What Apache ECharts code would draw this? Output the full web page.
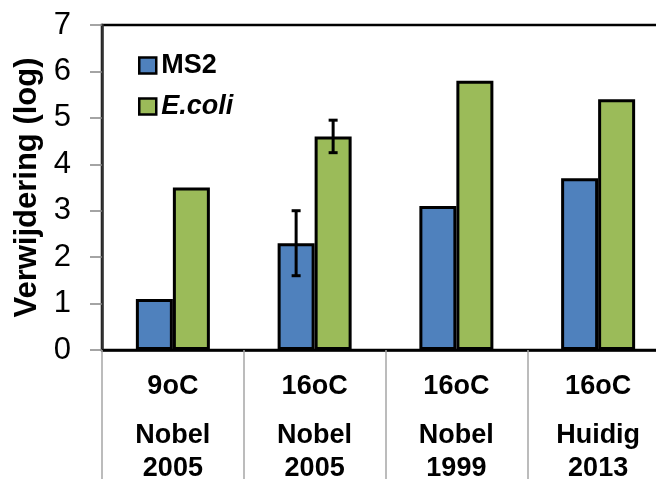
<!DOCTYPE html>
<html>
<head>
<meta charset="utf-8">
<script src="https://cdn.jsdelivr.net/npm/echarts@6/dist/echarts.min.js"></script>
<style>
  html, body { margin: 0; padding: 0; background: #fff; }
  #chart { width: 656px; height: 479px; }
</style>
</head>
<body>
<div id="chart"></div>
<script>
// Log removal per test condition
const temps = ['9oC', '16oC', '16oC', '16oC'];
const studies = ['Nobel', 'Nobel', 'Nobel', 'Huidig'];
const years = ['2005', '2005', '1999', '2013'];
const yTicks = [0, 1, 2, 3, 4, 5, 6, 7];

const ms2 = [1.1, 2.3, 3.1, 3.7];
const ecoli = [3.5, 4.6, 5.8, 5.4];

// Error ranges [category index, low, high]
const ms2Err = [[1, 1.6, 3.0]];
const ecoliErr = [[1, 4.25, 4.95]];

const FONT = '"Liberation Sans", Arial, Helvetica, sans-serif';
const BAR_W = 37;
const BLUE = '#4F81BD';
const GREEN = '#9BBB59';

const categories = temps.map((t, i) => i);

function errorSeries(name, data, offset) {
  return {
    type: 'custom',
    name: name + ' err',
    data: data,
    encode: { x: 0, y: [1, 2] },
    z: 5,
    silent: true,
    renderItem: function (params, api) {
      const lo = api.coord([api.value(0), api.value(1)]);
      const hi = api.coord([api.value(0), api.value(2)]);
      const x = lo[0] + offset;
      const cap = 4.5;
      const style = { stroke: '#000', lineWidth: 3 };
      return {
        type: 'group',
        children: [
          { type: 'line', shape: { x1: x, y1: lo[1], x2: x, y2: hi[1] }, style: style },
          { type: 'line', shape: { x1: x - cap, y1: lo[1], x2: x + cap, y2: lo[1] }, style: style },
          { type: 'line', shape: { x1: x - cap, y1: hi[1], x2: x + cap, y2: hi[1] }, style: style }
        ]
      };
    }
  };
}

const chart = echarts.init(document.getElementById('chart'), null, { renderer: 'canvas' });
chart.setOption({
  animation: false,
  backgroundColor: '#fff',
  textStyle: { fontFamily: FONT },
  grid: {
    left: 102, top: 25, bottom: 129, right: -13,
    outerBoundsMode: 'none',
    containLabel: false,
    show: true, borderColor: '#000', borderWidth: 2.5, backgroundColor: 'transparent'
  },
  legend: {
    data: ['MS2', 'E.coli'],
    orient: 'vertical',
    left: 133, top: 47,
    itemWidth: 17, itemHeight: 16, itemGap: 14,
    icon: 'rect',
    itemStyle: { borderColor: '#000', borderWidth: 2.5 },
    formatter: function (name) {
      return name === 'E.coli' ? '{i|' + name + '}' : '{n|' + name + '}';
    },
    textStyle: {
      rich: {
        n: { fontFamily: FONT, fontSize: 27, fontWeight: 'bold', color: '#000', lineHeight: 28 },
        i: { fontFamily: FONT, fontSize: 27, fontWeight: 'bold', fontStyle: 'italic', color: '#000', lineHeight: 28 }
      }
    }
  },
  xAxis: {
    type: 'category',
    data: categories,
    axisLine: { show: true, lineStyle: { color: '#000', width: 2.5 } },
    axisTick: { show: true, interval: 0, length: 131, lineStyle: { color: '#A6A6A6', width: 1.5 } },
    axisLabel: {
      interval: 0,
      margin: 22,
      formatter: function (v, i) {
        return '{t|' + temps[i] + '}\n{s| }\n{n|' + studies[i] + '}\n{n|' + years[i] + '}';
      },
      rich: {
        t: { fontFamily: FONT, fontSize: 27, fontWeight: 'bold', color: '#000', lineHeight: 30 },
        s: { fontSize: 10, lineHeight: 17 },
        n: { fontFamily: FONT, fontSize: 27, fontWeight: 'bold', color: '#000', lineHeight: 33 }
      }
    }
  },
  yAxis: {
    type: 'value',
    min: yTicks[0], max: yTicks[yTicks.length - 1], interval: 1,
    name: 'Verwijdering (log)',
    nameLocation: 'middle',
    nameRotate: 90,
    nameGap: 58,
    nameTextStyle: { fontFamily: FONT, fontSize: 31, fontWeight: 'bold', color: '#000' },
    axisLine: { show: true, lineStyle: { color: '#333', width: 2.5 } },
    axisTick: { show: true, length: 12, lineStyle: { color: '#868686', width: 1.5 } },
    splitLine: { show: false },
    axisLabel: { margin: 31, fontFamily: FONT, fontSize: 31, color: '#000' }
  },
  series: [
    {
      type: 'bar', name: 'MS2', data: ms2,
      barWidth: BAR_W, barGap: '0%',
      itemStyle: { color: BLUE, borderColor: '#000', borderWidth: 3 }
    },
    {
      type: 'bar', name: 'E.coli', data: ecoli,
      barWidth: BAR_W, barGap: '0%',
      itemStyle: { color: GREEN, borderColor: '#000', borderWidth: 3 }
    },
    errorSeries('MS2', ms2Err, -BAR_W / 2),
    errorSeries('E.coli', ecoliErr, BAR_W / 2)
  ]
});
</script>
</body>
</html>
